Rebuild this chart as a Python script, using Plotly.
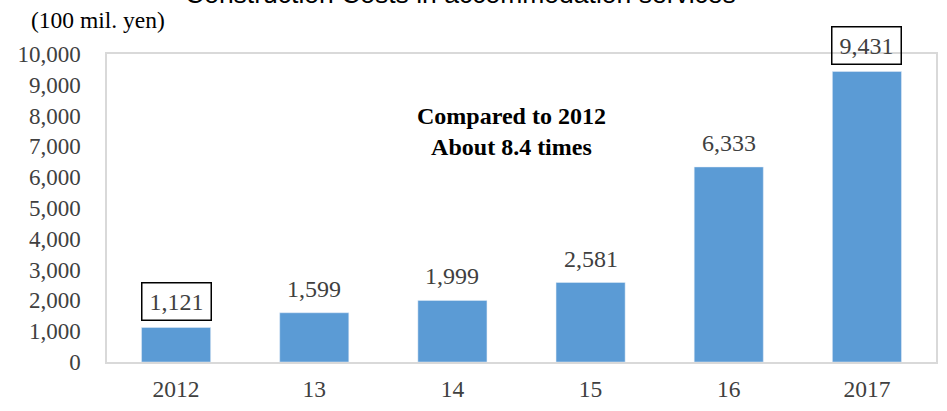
import plotly.graph_objects as go

# Construction costs in accommodation services (100 mil. yen)
years = ["2012", "13", "14", "15", "16", "2017"]
costs = [1121, 1599, 1999, 2581, 6333, 9431]
boxed = [True, False, False, False, False, True]
y_ticks = list(range(0, 10001, 1000))

serif = "Liberation Serif, Times New Roman, serif"
bar_color = "#5B9BD5"
text_grey = "#404040"

fig = go.Figure(
    go.Bar(x=years, y=costs, marker_color=bar_color, width=0.5, hoverinfo="x+y")
)

# value labels above bars; first and last enclosed in a box
for i, (yr, v, b) in enumerate(zip(years, costs, boxed)):
    ann = dict(
        x=i, y=v, xref="x", yref="y",
        text=f"{v:,}", showarrow=False,
        yanchor="middle",
        font=dict(family=serif, size=24, color=text_grey),
    )
    if b:
        ann.update(yshift=26, width=62, height=30, borderpad=3,
                   bordercolor="black", borderwidth=1.5)
    else:
        ann.update(yshift=24)
    fig.add_annotation(**ann)

# growth callout
fig.add_annotation(
    x=2.43, y=7480, xref="x", yref="y",
    text="<b>Compared to 2012<br>About 8.4 times</b>", showarrow=False,
    font=dict(family=serif, size=24, color="black"), align="center",
)

# chart title
fig.add_annotation(
    x=0.426, y=1, xref="paper", yref="paper",
    text="Construction Costs in accommodation services", showarrow=False,
    yanchor="middle", yshift=60,
    font=dict(family="Liberation Sans, Arial, sans-serif", size=26.5, color="black"),
)

# unit label
fig.add_annotation(
    x=0, y=1, xref="paper", yref="paper",
    text="(100 mil. yen)", showarrow=False,
    xanchor="left", yanchor="middle", xshift=-78, yshift=34,
    font=dict(family=serif, size=23.5, color="black"),
)

fig.update_layout(
    width=947, height=411,
    margin=dict(l=107, r=9, t=54, b=48),
    paper_bgcolor="white", plot_bgcolor="white",
    showlegend=False,
    xaxis=dict(
        type="category", showgrid=False, ticks="",
        showline=True, linecolor="#d9d9d9", linewidth=1.5, mirror=True,
        tickfont=dict(family=serif, size=23.5, color=text_grey),
        ticklabelstandoff=5,
    ),
    yaxis=dict(
        range=[0, 10000], tickvals=y_ticks, tickformat=",",
        showgrid=False, zeroline=False, ticks="",
        showline=True, linecolor="#d9d9d9", linewidth=1.5, mirror=True,
        tickfont=dict(family=serif, size=23, color=text_grey),
        ticklabelstandoff=20,
    ),
)

fig.write_html("out.html")
